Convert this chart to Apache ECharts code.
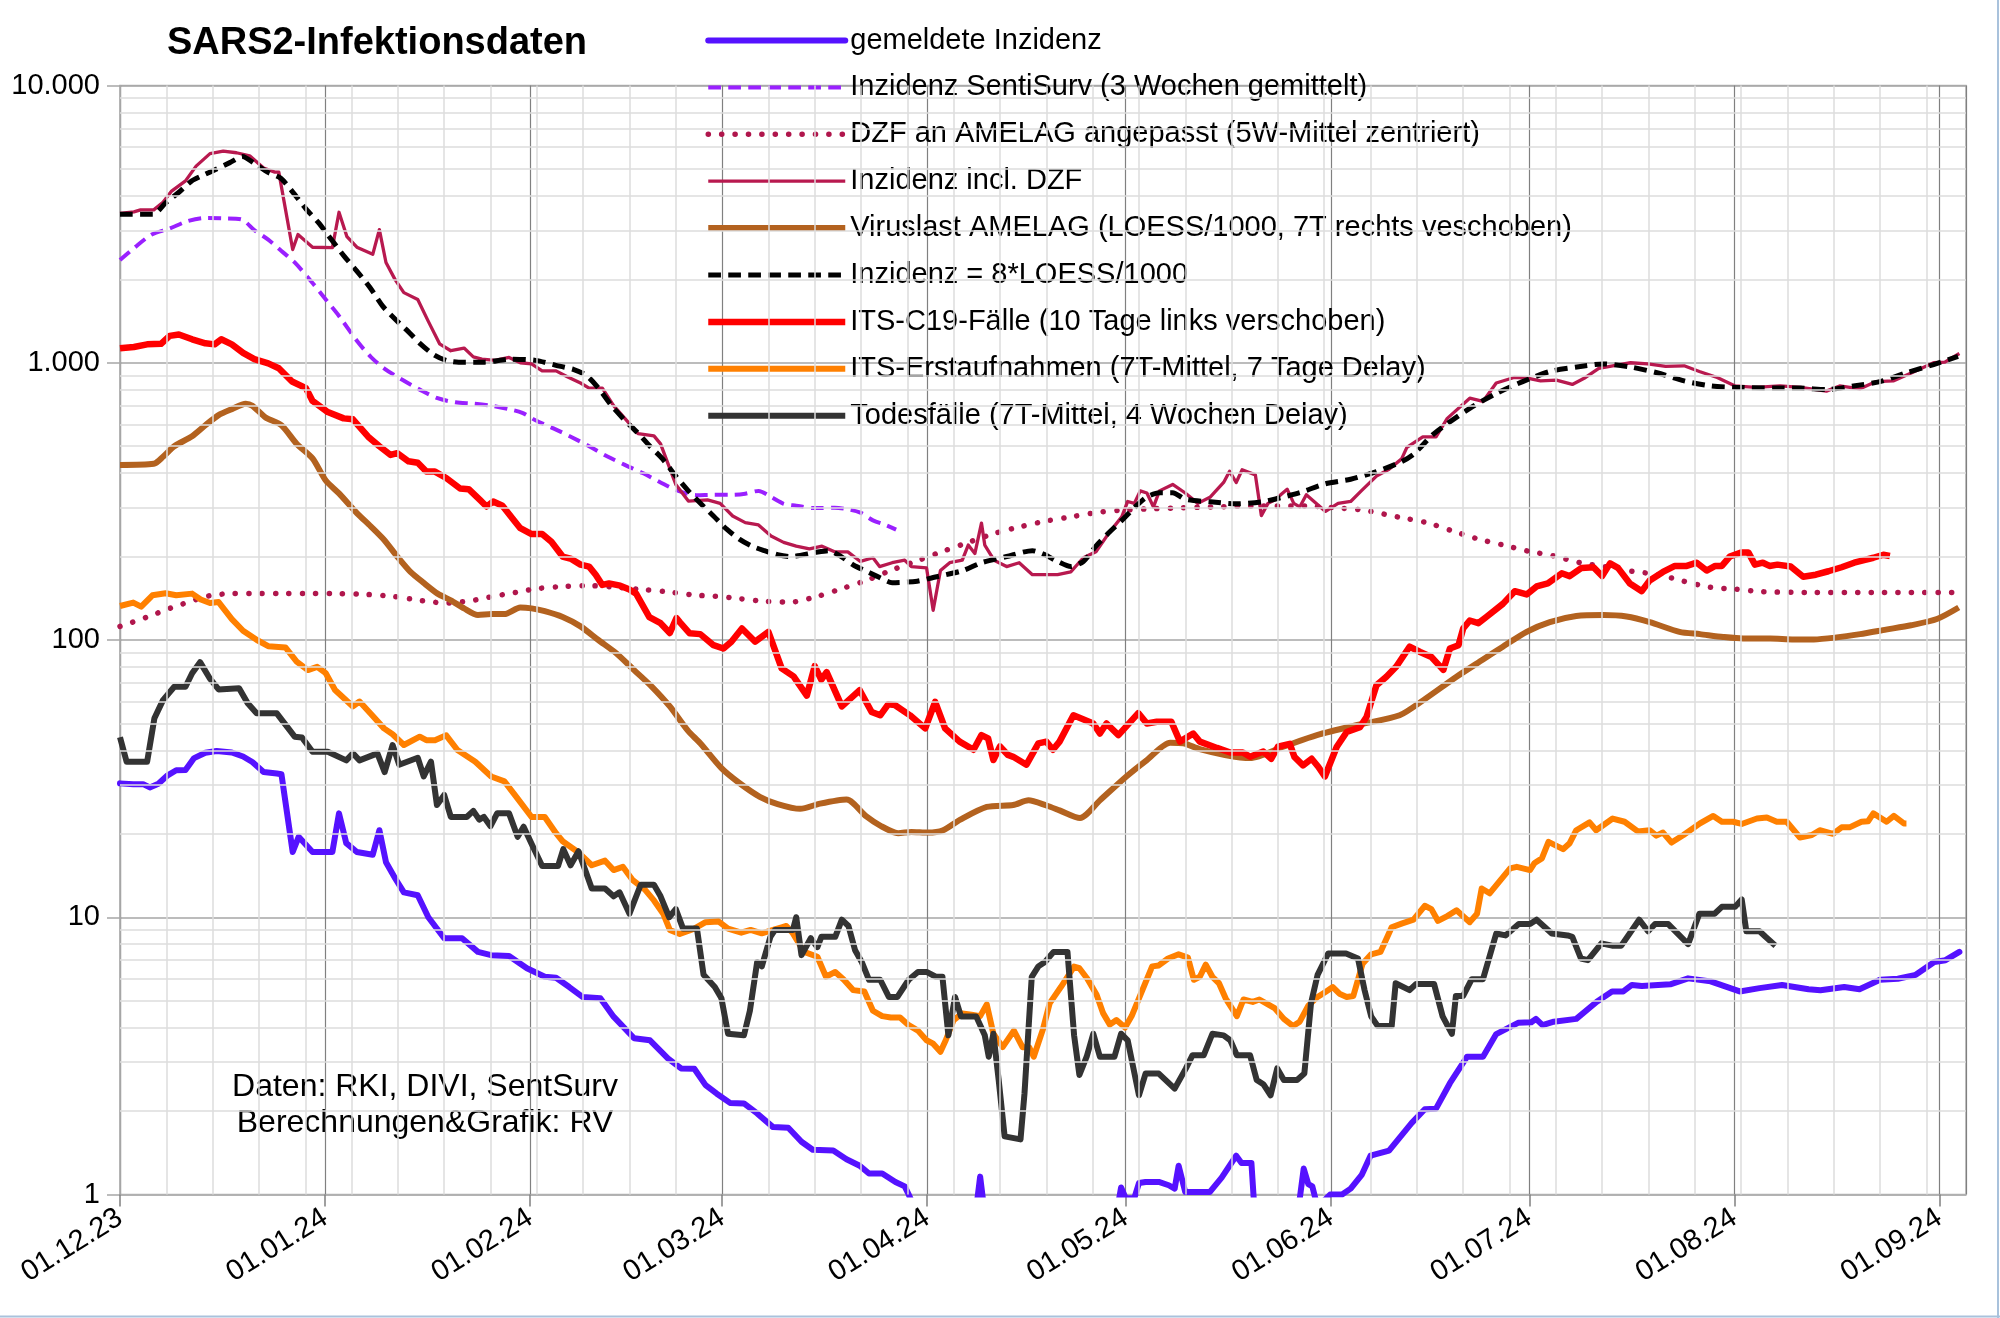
<!DOCTYPE html>
<html><head><meta charset="utf-8">
<script src="https://cdn.jsdelivr.net/npm/echarts@6/dist/echarts.min.js"></script>
<style>html,body{margin:0;padding:0;background:#fff}#chart{width:2000px;height:1318px}</style>
</head><body><div id="chart"></div>
<script>
// x values: days since 01.12.2023
const startDate = [2023, 11, 1];
const endDate = [2024, 8, 5];
const yTicks = [1, 10, 100, 1000, 10000];

const seriesNames = [
  'gemeldete Inzidenz',
  'Inzidenz SentiSurv (3 Wochen gemittelt)',
  'DZF an AMELAG angepasst (5W-Mittel zentriert)',
  'Inzidenz incl. DZF',
  'Viruslast AMELAG (LOESS/1000, 7T rechts veschoben)',
  'Inzidenz = 8*LOESS/1000',
  'ITS-C19-Fälle (10 Tage links verschoben)',
  'ITS-Erstaufnahmen (7T-Mittel, 7 Tage Delay)',
  'Todesfälle (7T-Mittel, 4 Wochen Delay)'
];

const gemeldeteInzidenz = [[0,30.4],[2,30.2],[3.5,30.2],[4.5,29.4],[5.8,30.3],[7.2,32.5],[8.5,33.9],[9.9,34],[11.2,37.5],[12.9,39.2],[14.6,39.8],[16.9,39.3],[18.6,38],[20,36.3],[21.7,33.4],[23.7,33],[24.4,32.8],[26.1,17.2],[27,19.5],[29.1,17.2],[32.1,17.2],[33.1,23.7],[34.2,18.5],[35.8,17.2],[38.2,16.8],[39.2,20.6],[40.2,15.8],[41.6,13.8],[42.9,12.3],[45,12.0],[46.6,10.0],[49,8.4],[51.7,8.4],[54.1,7.5],[56.1,7.3],[58.8,7.25],[61.5,6.55],[64.2,6.1],[65.9,6.05],[67.9,5.6],[69.9,5.16],[72.6,5.1],[74.6,4.38],[77.7,3.66],[80.1,3.6],[82.8,3.1],[84.8,2.85],[86.8,2.84],[88.5,2.48],[90.2,2.31],[92.2,2.14],[94.3,2.13],[96.3,1.96],[98.7,1.75],[101,1.74],[103,1.55],[104.7,1.45],[107.8,1.44],[109.8,1.34],[111.8,1.27],[113.2,1.19],[115.2,1.19],[117.2,1.11],[118.6,1.07],[119.2,1.0],[120.5,0.85],[129.3,0.85],[130,1.16],[130.7,0.85],[150.6,0.85],[151.3,1.06],[152,0.97],[153.3,0.97],[154,1.1],[155,1.11],[157,1.11],[158.5,1.08],[159.4,1.05],[160,1.27],[161,1.02],[164.7,1.02],[166.5,1.15],[168.7,1.38],[169.5,1.3],[171,1.3],[171.5,0.85],[178,0.85],[178.9,1.24],[179.6,1.09],[180.2,1.07],[181,0.9],[182.9,1.0],[184.7,1.0],[186,1.05],[187.7,1.18],[189,1.38],[191.8,1.44],[195.2,1.81],[197.2,2.03],[198.9,2.04],[201,2.52],[203.6,3.14],[206,3.14],[208,3.79],[211.3,4.16],[213.3,4.18],[214,4.3],[215,4.08],[216.7,4.2],[220.1,4.3],[223.2,4.96],[225.5,5.4],[227.2,5.4],[228.5,5.7],[230,5.65],[234.3,5.73],[237,6.02],[240.4,5.87],[244.8,5.4],[247.8,5.55],[251.2,5.7],[255.2,5.5],[257,5.45],[260.6,5.6],[262.9,5.5],[266,5.95],[268.7,6.0],[271.4,6.2],[274.2,6.9],[275.9,7.0],[278,7.5]];

const sentiSurv = [[0,2348],[2.1,2590],[4.8,2900],[7.5,3050],[10.2,3240],[12.9,3330],[15.6,3320],[18.3,3290],[20.3,3010],[22.4,2780],[24.4,2530],[26.4,2300],[29.1,1940],[31.1,1690],[33.1,1475],[35.8,1200],[37.9,1050],[39.9,955],[42.6,870],[45.3,800],[48,745],[50.7,720],[53.4,712],[56.1,700],[58.8,680],[60.8,660],[62.8,620],[65.5,580],[68.2,540],[70.9,500],[73.6,460],[76.3,428],[79,400],[81.7,370],[84.4,345],[87.1,333],[89.7,334],[92.6,334],[94.5,337],[96.5,345],[98.4,328],[100.3,310],[102.2,305],[105.1,299],[108,300],[110,296],[111.9,288],[113.8,270],[115.7,260],[117.3,250]];

const dzfAmelag = [[0,112],[4.1,121],[7.5,130],[9.5,135],[11.5,140],[13.6,144.5],[16.9,147],[21,147],[25,147],[29,147],[33.1,147],[37.2,146],[41.2,143.6],[45.3,139],[47.3,137],[49.3,136],[51.4,137],[53.4,139],[55,141.5],[56.7,144],[58.8,147],[60.8,150],[62.8,153],[66.9,156],[70.9,157],[75,155],[79,152],[83,149],[87.1,145],[89.7,144],[93.6,141],[97.4,138],[101.3,137],[105.1,143],[109,153],[112.8,164],[116.7,179],[120.5,193],[124.4,209],[128.2,225],[132.1,242],[136,256],[139.8,268],[143.7,278],[147.5,288],[151.4,294],[155.2,297],[159.1,299],[165,302],[172,304],[179.8,304],[183.5,300],[187.9,294],[193.7,276],[197.5,265],[201.3,248],[205.1,232],[209.1,220],[212.9,209],[216.7,201],[220.7,190],[224.4,184],[228.5,177],[232.5,172],[236.3,163],[240.3,155],[244,152.6],[248.1,149.5],[255,148.5],[265,148.5],[277.9,148.5]];

const inzidenzDZF = [[0,3460],[2.1,3500],[3.1,3560],[5.1,3560],[6.5,3790],[7.8,4160],[9.9,4530],[11.5,5120],[13.6,5680],[15.6,5800],[17.6,5720],[19.6,5580],[21.7,5040],[23.4,4870],[24,4870],[26.1,2560],[26.9,2900],[29.1,2610],[32.1,2600],[33.1,3490],[34.3,2850],[35.8,2610],[38.2,2460],[39.2,3020],[40.2,2300],[41.6,1990],[42.9,1790],[45,1690],[46.6,1410],[48.3,1170],[50,1105],[52,1130],[53.4,1050],[54.7,1030],[56.7,1020],[58.8,1045],[60.5,1000],[62.2,990],[63.8,935],[65.9,935],[67.6,890],[69.6,845],[70.9,810],[72.9,810],[74.6,700],[76.3,630],[78.3,555],[80.7,545],[81.7,510],[84,364],[85.9,317],[88.8,320],[90.7,311],[92.6,280],[94.5,265],[96.5,260],[98.4,237],[100.3,225],[102.2,218],[104.2,213],[106.1,218],[108,208],[110,208],[111.9,192],[113.8,198],[114.8,184],[116.7,190],[118.6,194],[119.6,184],[121.9,182],[122.9,128],[124,178],[125.4,190],[127.3,194],[128.2,220],[129.2,205],[130.2,264],[130.7,220],[132.1,194],[134,184],[135.9,190],[137.9,172],[141.7,172],[143.7,176],[145.6,198],[147.5,208],[149.4,242],[151.4,278],[152.3,316],[153.3,311],[154.2,345],[155.2,339],[156.2,302],[157.1,345],[159.1,364],[161,339],[162.9,311],[164.8,328],[166.8,370],[167.7,406],[168.7,370],[169.6,411],[171.6,394],[172.5,281],[173.5,311],[174.5,320],[176.4,350],[177.4,311],[178.3,302],[179.3,334],[180.2,320],[182.2,291],[184.1,311],[186,316],[187.6,345],[189.9,390],[191.8,413],[193.7,450],[194.5,495],[196.9,540],[198.9,540],[200.6,630],[204,745],[206,725],[208,845],[210.7,885],[212.7,880],[214.7,860],[217.1,865],[219.5,835],[221.5,885],[223.5,955],[225.6,975],[228.3,1000],[230.9,990],[233.6,970],[236.4,975],[238.7,930],[241.4,885],[244.1,825],[247.2,815],[250.9,825],[254,815],[257.9,790],[259.9,825],[263,805],[265.4,855],[268,860],[270.8,920],[274.1,1000],[275.8,1005],[278,1080]];

const viruslastAmelag = [[0,428],[5.1,432],[6.5,458],[8.2,500],[10.9,543],[12.9,595],[14.9,647],[16.9,680],[19,712],[20,700],[22,635],[24.4,595],[26.7,510],[29.1,452],[31.1,376],[33.1,338],[35.8,287],[37.9,257],[39.9,230],[41.9,200],[43.9,176],[46,160],[48,147],[50,139],[52,130],[54.1,123],[56.1,124],[58.1,124],[60.5,131],[62.2,130],[64.2,127],[66.9,121],[69.6,112],[72.3,100],[75,89.6],[77.7,77.9],[80.4,67.8],[83.1,57.6],[85.8,47.2],[87.7,42.4],[90.9,34.5],[93.6,30.5],[96.7,27.2],[99.4,25.6],[102.8,24.6],[105.8,25.7],[109.8,26.6],[112.8,23.1],[114.9,21.4],[117.6,20.1],[119.6,20.3],[122.1,20.2],[124.4,20.6],[127,22.5],[131,25],[135,25.4],[137.3,26.4],[140,25.3],[142,24.3],[145.1,22.8],[148.1,26.4],[152.1,32.2],[155.2,36.9],[158.7,42.6],[160.7,42.4],[163.2,40.4],[167,38.5],[170.8,37.5],[175.8,41.2],[180.9,45.4],[187.4,49.6],[193.4,53.5],[197,60.7],[202,73.7],[206,85],[209,94.6],[212.6,107],[216.1,116],[220.1,122],[224.2,123],[227.7,121.5],[231.2,116],[235.7,107],[238.8,105],[242.3,102.6],[245.3,101.3],[249.4,101.3],[253,100.5],[256,100.5],[259.2,102],[263,105],[266.9,109],[270.7,113],[274.6,119],[277.9,131]];

const inzidenzLoess = [[0,3434],[5,3434],[6.9,3770],[8.9,4120],[10.8,4520],[12.7,4760],[14.6,5000],[16.6,5270],[18.5,5540],[20.4,5220],[22.3,4870],[24.3,4630],[26.2,4100],[28.1,3590],[30,3200],[32,2770],[33.9,2420],[35.8,2140],[37.7,1880],[39.7,1600],[41.6,1435],[43.5,1300],[45.4,1170],[47.4,1070],[49.3,1020],[51.2,1005],[55.1,1005],[58.9,1030],[62.8,1020],[66.6,970],[68.6,945],[70.5,900],[72.4,805],[74.3,700],[76.3,620],[78.2,560],[80.1,500],[82,450],[84,390],[85.9,345],[87.8,310],[89.7,280],[91.7,251],[93.6,231],[95.5,218],[97.4,210],[99.4,203],[101.3,200],[105.1,207],[107.1,210],[109,200],[110.9,186],[112.8,177],[114.8,168],[116.7,161],[120.5,163],[122.9,168],[127.4,178],[130.2,190],[134,200],[137.9,210],[139.8,203],[141.7,192],[143.7,184],[145.6,192],[147.5,218],[149.4,243],[151.4,270],[153.3,300],[155.2,328],[157.1,340],[159.1,340],[161,322],[164.8,315],[168.7,310],[172.5,315],[174.5,322],[178.3,340],[182.2,366],[186,380],[189.9,405],[193.7,440],[195.6,470],[198.6,555],[204,685],[208,775],[212,855],[216.1,930],[220.2,965],[224.2,990],[228.3,965],[232.3,920],[236.4,860],[240.4,825],[244.4,815],[249.8,810],[254,810],[257.9,800],[262,825],[266,855],[270,920],[274.1,985],[277.8,1055]];

const itsFaelle = [[0,1127],[2.1,1140],[4.1,1165],[6.2,1170],[7.5,1250],[8.9,1265],[10.9,1215],[12.9,1175],[14.3,1165],[15.3,1215],[16.9,1165],[18.6,1085],[20.3,1030],[22.4,995],[24,955],[26,856],[28.1,810],[29.1,728],[31.4,664],[33.8,630],[35.2,625],[37.5,541],[39.2,500],[40.9,465],[41.9,472],[43.6,441],[45,436],[46.3,405],[47.6,405],[49.3,384],[51.4,352],[52.7,350],[54.4,320],[55.4,303],[56.4,316],[57.8,305],[59.5,271],[60.5,253],[62.2,241],[63.8,241],[65.2,226],[66.9,200],[68.2,196],[69.6,187],[70.9,184],[71.9,172],[72.9,158],[73.9,160],[75.6,157],[77,152],[78,147],[80,121],[81.7,115],[83.1,106],[84.1,120],[84.6,116],[86.1,105.7],[87.7,105],[89.7,95.8],[91.2,93.2],[92.4,98.6],[94,110],[96,98.6],[98,107],[100,79],[101.8,73.9],[103.8,63],[105,80.5],[106,71.9],[106.8,76.6],[109.1,57.6],[111.8,65.9],[113.6,55],[114.9,53.5],[116.1,58.6],[117.1,58.3],[119.4,53.5],[121.7,48],[123.2,59.8],[124.7,48],[126.9,43],[129,40.2],[130.2,45.4],[131.2,44.2],[132,36.9],[133,41.3],[134.2,38.5],[135,37.9],[137,35.5],[138.8,42.4],[140,43],[141,40.2],[142,43],[144.1,53.5],[147.1,50],[148.1,46],[149.1,50],[150.9,45.4],[153.9,54.5],[155.2,50],[156.7,50.7],[158.9,50.7],[160.2,43],[162.2,46],[163.2,43],[165.8,40.8],[167.8,39.3],[169.7,39.3],[170.8,37.9],[172.8,39.6],[174,37.3],[175,41.2],[176.8,42.2],[177.5,37.9],[178.8,35.3],[180.1,37.3],[181.1,34.9],[182.1,32.2],[183.9,41.2],[185.4,46.6],[187.4,48.5],[188.4,52.8],[189.9,68.7],[191.4,73.7],[192.9,80.2],[194.9,94.6],[196.5,90.5],[198.2,86.8],[200,78],[201,93.2],[202.3,95.8],[203,110],[204,117.6],[205.3,115],[206.5,121],[209,135],[210.8,150],[212.6,146],[214.1,156],[215.8,160],[217.9,174],[219.1,170],[220.9,182],[222.7,183],[224,170],[225.2,189],[226.4,182],[228.2,160],[230,150],[231.2,164],[233.2,176],[235,185],[236.8,185],[238.3,190],[239.8,178],[241.1,185],[242.1,185],[243.3,200],[245.1,207],[246.1,207],[247.1,187],[248.3,190],[249.3,185],[250.5,187],[252.5,184],[254.4,169],[256.3,172],[258.2,177],[260.2,183],[262.1,190],[263.6,194],[265,198],[266.5,203],[267.5,201]];

const itsErstaufnahmen = [[0,132.6],[2,136.4],[3.2,132],[4.9,145],[6.9,147.5],[8.5,145],[10.9,147],[12.2,140],[13.6,136],[14.9,137],[16.9,119],[18.6,108],[20.7,100],[22.4,95],[25,94],[26.7,83.6],[28.4,77.9],[29.8,80],[31.1,75.9],[32.5,66],[35.2,57.6],[36.2,60],[37.9,54.2],[39.9,48],[41.2,45.7],[42.9,41.8],[45.3,44.8],[46.3,43.5],[47.6,43.5],[49.3,45.3],[51,40.1],[53.7,36.4],[56.1,32.2],[58.1,30.9],[60.1,26.8],[62.2,23],[64.2,23],[65.9,20.1],[66.9,18.8],[69.2,17.2],[71.3,15.4],[73.3,16],[74.6,14.8],[76,15.2],[77.5,13.6],[79.3,12.6],[80.7,11.5],[82.1,10.3],[83.1,9.0],[84.6,8.7],[86.8,9.1],[88.5,9.6],[90.5,9.65],[91.9,9.1],[93.9,8.8],[95.3,9.0],[97,8.75],[98.7,9.0],[100,9.2],[100.7,9.3],[101.7,8.75],[103.4,7.5],[105.4,7.2],[106.7,6.1],[108.1,6.35],[109.4,5.95],[110.8,5.46],[112.5,5.4],[113.8,4.6],[115.2,4.4],[116.5,4.35],[117.9,4.35],[119.2,4.08],[120.6,3.9],[121.9,3.6],[122.9,3.5],[124,3.27],[124.8,3.6],[126,4.26],[127.3,4.5],[128.7,4.45],[130,4.4],[131,4.85],[132,3.8],[133.4,3.4],[135.1,3.9],[136.4,3.4],[137.4,3.4],[138.1,3.14],[139.5,3.95],[140.5,4.89],[142.2,5.6],[144.2,6.64],[145,6.55],[146.2,6.0],[147.6,5.25],[148.6,4.5],[149.6,4.1],[150.6,4.26],[151.9,4.0],[152.9,4.4],[154.3,5.3],[156,6.65],[157,6.7],[158.4,7.1],[160,7.35],[161.4,7.15],[162.3,5.95],[163.2,6.1],[164.1,6.75],[165.1,6.1],[166.1,5.78],[167.1,5.1],[168.8,4.4],[169.8,5.05],[171.2,4.95],[172.2,5.05],[173.5,4.85],[174.5,4.7],[175.9,4.3],[177.3,4.05],[178.3,4.2],[179.6,4.8],[181,5.16],[182.3,5.4],[183.3,5.6],[184.3,5.3],[185.4,5.16],[186.4,5.2],[187.8,6.8],[189.1,7.35],[190.5,7.5],[192.2,9.2],[193.8,9.5],[195.5,9.8],[197.2,11.0],[198.2,10.7],[199.2,9.7],[200.6,10.1],[202,10.6],[204,9.6],[205.1,10.3],[205.8,12.7],[207,12.2],[210.1,15.0],[211.1,15.2],[213.1,14.8],[213.8,15.7],[214.9,16.3],[215.9,18.7],[218.1,17.6],[219.1,18.5],[220.1,20.6],[222.1,22.0],[223.1,20.6],[225.6,22.7],[227.4,22.1],[229.4,20.4],[231.2,20.6],[232.2,19.7],[233.2,20.2],[234.5,18.6],[236.3,19.8],[238.8,21.8],[240.8,23.2],[242.1,22.1],[243.8,22.1],[245.1,21.7],[247.4,22.7],[248.9,22.9],[250.4,22.1],[251.9,22.1],[253.9,19.4],[255.7,19.8],[256.9,20.6],[258.9,20.0],[260.2,21.1],[261.4,21.1],[263.2,22.1],[264.2,22.2],[265,23.7],[267,22.1],[268.1,23.2],[269.6,21.8],[270,21.8]];

const todesfaelle = [[0,44.6],[1,36.4],[4.1,36.4],[5.2,52.2],[6.5,60.7],[8.2,67.8],[9.9,67.8],[10.9,75.9],[12.1,83.2],[13.6,72.5],[14.9,66.3],[18,67],[19.3,59.1],[20.65,54.4],[23.7,54.4],[26.4,44.8],[27.5,44.5],[29.1,39.5],[31.4,39.5],[34.2,36.8],[35.2,39],[36.2,36.8],[38.9,39],[40,33.4],[41.2,41.8],[42.2,35.5],[45,37.6],[45.9,32.2],[47,36.4],[47.9,25.4],[49,27.6],[50,23],[52.4,23],[53.4,24.2],[54.3,22.5],[55,23],[56,21.3],[57,23.7],[58.8,23.7],[60.1,19.5],[61,21.2],[62.2,18.4],[63.8,15.3],[66.2,15.3],[67,17.6],[68.1,15.4],[69.3,17.3],[71.3,12.7],[73.3,12.7],[74.6,11.9],[75.5,12.3],[77,10.3],[78.7,13.1],[80.7,13.1],[81.7,11.9],[83,10.0],[84,10.7],[85.1,9.1],[87.2,9.1],[88.2,6.2],[89.9,5.6],[90.9,5.1],[91.9,3.8],[94.3,3.75],[95.2,4.6],[96.3,6.9],[97,6.65],[98.3,8.5],[99,9.0],[101.7,9.0],[102.2,10],[103,7.3],[104.4,8.4],[105.4,7.8],[106,8.5],[108.1,8.5],[109.1,9.8],[110.1,9.3],[111.1,7.6],[112.1,6.9],[113.2,5.95],[114.9,5.95],[116.2,5.16],[117.5,5.16],[119.2,5.95],[120.6,6.35],[121.9,6.35],[123.3,6.1],[124.3,6.1],[125.2,3.75],[126.2,5.16],[127.1,4.39],[129.4,4.39],[130.7,3.75],[131.3,3.14],[132,3.8],[132.8,2.59],[133.7,1.62],[136.1,1.58],[136.7,2.31],[137.8,6.1],[138.8,6.65],[139.8,6.9],[141.1,7.5],[143.2,7.5],[144.2,3.75],[145,2.7],[146.1,3.14],[147.1,3.8],[148.1,3.14],[150.3,3.14],[151.3,3.8],[152.3,3.6],[154,2.28],[155,2.73],[157,2.73],[159.4,2.41],[161.1,2.85],[162.1,3.18],[163.8,3.18],[165.1,3.8],[166.8,3.75],[167.8,3.6],[168.8,3.18],[170.8,3.18],[171.8,2.59],[172.8,2.5],[173.9,2.28],[174.9,2.85],[175.9,2.59],[177.9,2.59],[179,2.73],[180,4.89],[181,6.2],[182.6,7.4],[185.3,7.4],[187.1,7.1],[188.1,5.46],[189.1,4.39],[190.1,4.05],[192.2,4.05],[192.8,5.78],[194.9,5.46],[195.9,5.75],[198.6,5.75],[199.9,4.39],[201.3,3.8],[201.9,5.2],[203,5.2],[204.3,5.98],[206,5.98],[208,8.74],[209.4,8.6],[211.4,9.45],[213.1,9.45],[214.1,9.8],[216.4,8.74],[218.8,8.6],[219.5,8.5],[220.8,7.1],[221.85,7.0],[223.9,8.05],[225.5,7.9],[226.9,7.9],[229.6,9.8],[230.95,8.9],[232,9.45],[234,9.45],[237,8.0],[238.7,10.3],[241,10.3],[242.1,10.9],[244.1,10.9],[245.1,11.6],[245.8,8.9],[247.8,8.9],[248.7,8.5],[250.2,7.9]];

// ---- build ----
const DAY = 86400000;
const base = new Date(startDate[0], startDate[1], startDate[2]).getTime();
const xMax = new Date(endDate[0], endDate[1], endDate[2]).getTime();
const toTime = arr => arr.map(p => [base + p[0] * DAY, p[1]]);
const pad = n => (n < 10 ? '0' : '') + n;
const FONT = 'Liberation Sans, Arial, sans-serif';

// light weekly gridlines and log minor gridlines
const weekLines = [];
for (let d = 7; base + d * DAY < xMax; d += 7) {
  const t = new Date(base + d * DAY);
  if (t.getDate() === 1) continue;
  weekLines.push({ xAxis: base + d * DAY });
}
const minorLines = [];
for (let dec = 1; dec < 10000; dec *= 10) {
  for (let k = 2; k <= 9; k++) minorLines.push({ yAxis: k * dec });
}

const styles = [
  { color: '#5512ff', width: 6, type: 'solid', cap: 'round' },
  { color: '#9a20ff', width: 4, type: [12.7, 7.3] },
  { color: '#b0164c', width: 5.5, type: [0.1, 13.3], cap: 'round' },
  { color: '#b8194f', width: 3.3, type: 'solid' },
  { color: '#b3621f', width: 6, type: 'solid' },
  { color: '#000000', width: 5, type: [12.7, 7.3] },
  { color: '#ff0000', width: 6.5, type: 'solid' },
  { color: '#ff8000', width: 6, type: 'solid' },
  { color: '#333333', width: 6, type: 'solid' }
];
const dataSets = [gemeldeteInzidenz, sentiSurv, dzfAmelag, inzidenzDZF, viruslastAmelag, inzidenzLoess, itsFaelle, itsErstaufnahmen, todesfaelle];
const smoothFlags = [false, 0.3, 0.3, false, 0.25, 0.25, false, false, false];

const series = [{
  name: 'grid',
  type: 'line',
  z: 1,
  silent: true,
  symbol: 'none',
  data: [[base, 1]],
  lineStyle: { opacity: 0 },
  markLine: {
    silent: true,
    symbol: ['none', 'none'],
    label: { show: false },
    emphasis: { disabled: true },
    animation: false,
    lineStyle: { color: '#dcdcdc', width: 1.5, type: 'solid' },
    data: weekLines.concat(minorLines)
  }
}];
dataSets.forEach((ds, i) => {
  const st = styles[i];
  series.push({
    name: seriesNames[i],
    type: 'line',
    data: toTime(ds),
    showSymbol: false,
    symbol: 'none',
    smooth: smoothFlags[i],
    clip: true,
    z: 2 + i * 0.01,
    color: st.color,
    itemStyle: { color: st.color, borderWidth: 0 },
    lineStyle: { color: st.color, width: st.width, type: st.type, cap: st.cap || 'butt', join: 'round' }
  });
});

const chart = echarts.init(document.getElementById('chart'), null, { renderer: 'canvas' });
chart.setOption({
  animation: false,
  backgroundColor: '#ffffff',
  textStyle: { fontFamily: FONT },
  grid: { left: 120, right: 34, top: 85.5, bottom: 123.5, show: true, borderColor: '#b3b3b3', borderWidth: 1.5, containLabel: false, outerBoundsMode: 'none' },
  legend: {
    orient: 'vertical',
    left: 705,
    top: 25.5,
    padding: 0,
    itemWidth: 137,
    itemHeight: 14,
    itemGap: 16.9,
    selectedMode: false,
    data: seriesNames,
    itemStyle: { opacity: 0, borderWidth: 0, color: 'transparent', borderColor: 'transparent' },
    lineStyle: { width: 'inherit', type: 'inherit', cap: 'inherit' },
    textStyle: { fontFamily: FONT, fontSize: 29, color: '#000', lineHeight: 30 }
  },
  xAxis: {
    type: 'time',
    min: base,
    max: xMax,
    splitNumber: 9,
    minInterval: 28 * DAY,
    maxInterval: 31 * DAY,
    axisLine: { show: true, lineStyle: { color: '#b3b3b3', width: 1.5 } },
    axisTick: { show: true, length: 12, lineStyle: { color: '#808080', width: 1.5 } },
    splitLine: { show: true, lineStyle: { color: '#808080', width: 1.2 } },
    axisLabel: {
      rotate: 32,
      margin: 21,
      fontSize: 29,
      color: '#000',
      fontFamily: FONT,
      showMaxLabel: false,
      formatter: v => { const d = new Date(v); return pad(d.getDate()) + '.' + pad(d.getMonth() + 1) + '.' + String(d.getFullYear()).slice(2); }
    }
  },
  yAxis: {
    type: 'log',
    logBase: 10,
    min: yTicks[0],
    max: yTicks[yTicks.length - 1],
    axisLine: { show: true, lineStyle: { color: '#b3b3b3', width: 1.5 } },
    axisTick: { show: true, length: 13, lineStyle: { color: '#a6a6a6', width: 1.5 } },
    splitLine: { show: true, lineStyle: { color: '#a6a6a6', width: 1.5 } },
    axisLabel: {
      margin: 20,
      fontSize: 29,
      color: '#000',
      fontFamily: FONT,
      formatter: v => String(Math.round(v)).replace(/\B(?=(\d{3})+(?!\d))/g, '.')
    }
  },
  graphic: [
    { type: 'text', x: 377, y: 44, style: { text: 'SARS2-Infektionsdaten', fill: '#000', font: 'bold 38px ' + FONT, textAlign: 'center', textVerticalAlign: 'middle' } },
    { type: 'text', x: 425, y: 1087, style: { text: 'Daten: RKI, DIVI, SentSurv', fill: '#000', font: '32px ' + FONT, textAlign: 'center', textVerticalAlign: 'middle' } },
    { type: 'text', x: 425, y: 1123, style: { text: 'Berechnungen&Grafik: RV', fill: '#000', font: '32px ' + FONT, textAlign: 'center', textVerticalAlign: 'middle' } },
    { type: 'line', shape: { x1: 1998, y1: 0, x2: 1998, y2: 1318 }, style: { stroke: '#a9c2dc', lineWidth: 2 } },
    { type: 'line', shape: { x1: 0, y1: 1316.5, x2: 2000, y2: 1316.5 }, style: { stroke: '#a9c2dc', lineWidth: 2 } }
  ],
  series: series
});
</script></body></html>
